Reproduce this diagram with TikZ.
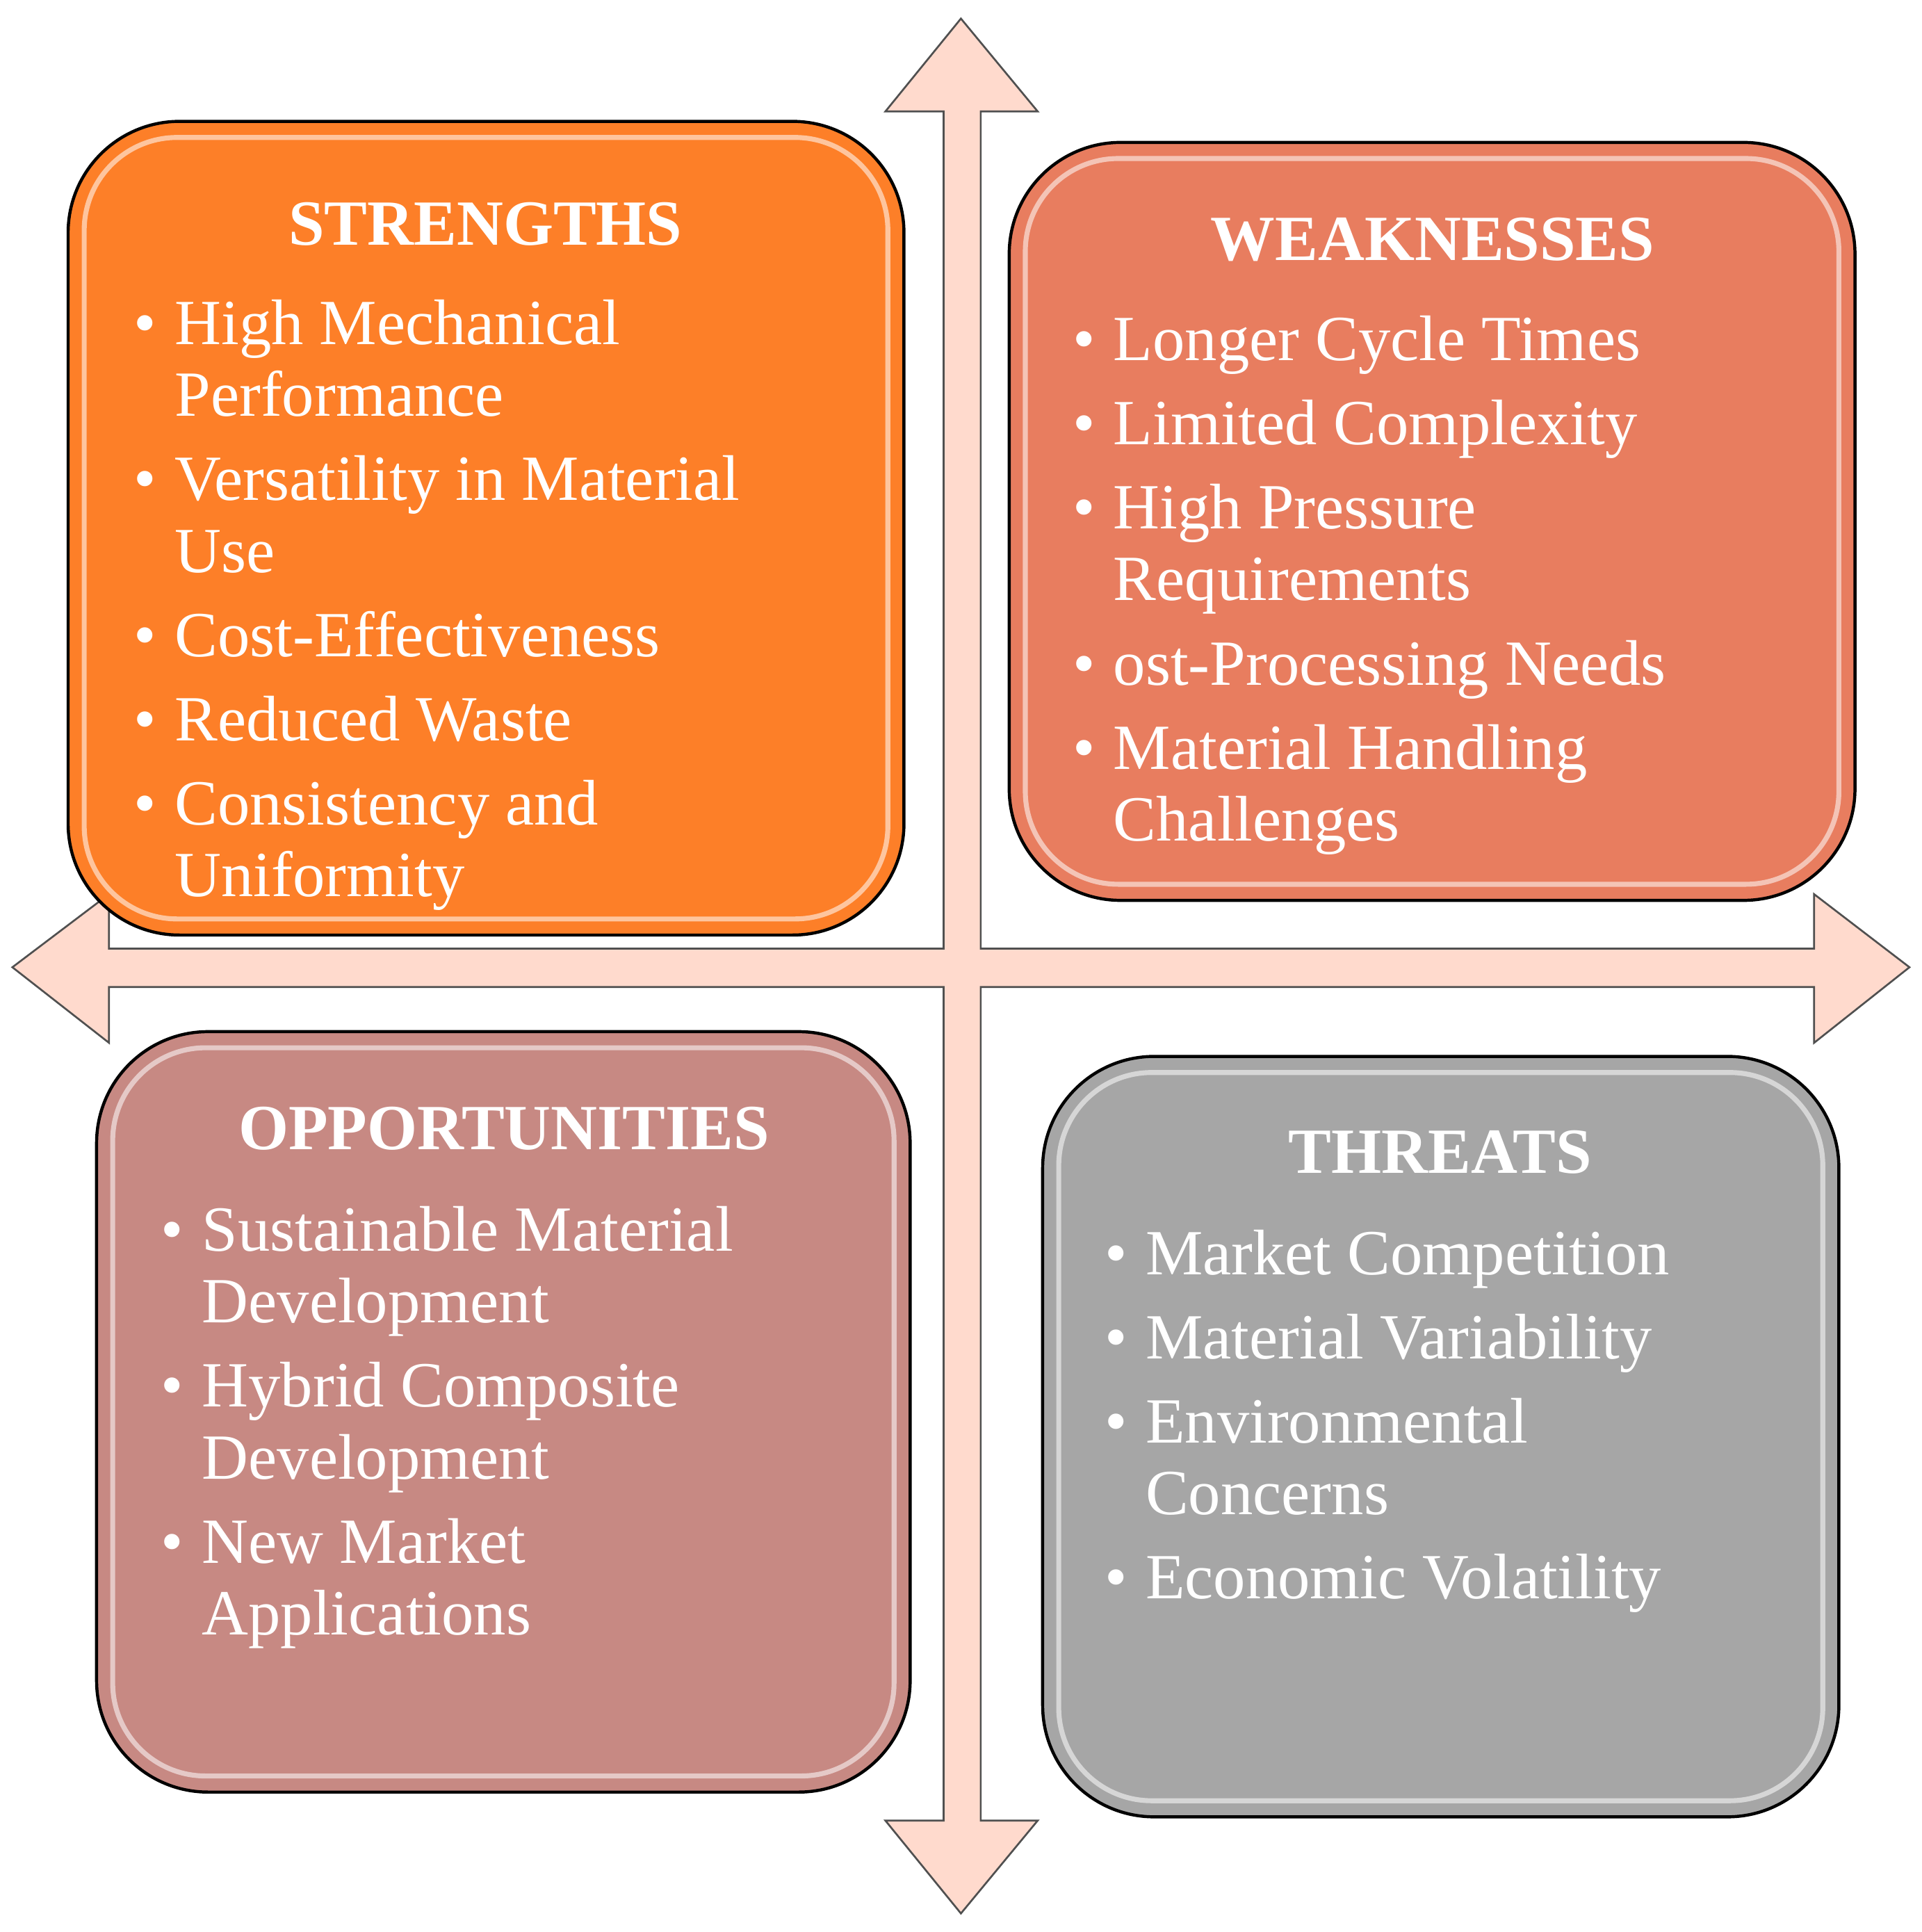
\documentclass[tikz,border=0pt]{standalone}
\usepackage{fontspec}
\setmainfont{Liberation Serif}
\newcommand\bitem[1]{\par\noindent\hangindent=33pt\hangafter=1\makebox[33pt][l]{\textbullet}#1\par\vspace{10pt}}
\begin{document}
\begin{tikzpicture}[x=1pt,y=-1pt,
 box/.style={draw=black,line width=2.5pt,rounded corners=90pt},
 gloss/.style={draw=white,opacity=0.55,line width=4pt,rounded corners=75pt},
 ttl/.style={font=\fontsize{52}{58}\selectfont\bfseries,text=white,anchor=base,inner sep=0},
 lst/.style={anchor=base west,inner sep=0,text=white}]
\useasboundingbox (0,0) rectangle (1552,1560);
\fill[white] (0,0) rectangle (1552,1560);
\draw[fill={rgb,255:red,255;green,218;blue,205},draw={rgb,255:red,80;green,80;blue,80},line width=1.5pt,line join=miter]
 (776,15) -- (838,90) -- (792,90) -- (792,766) -- (1465,766) -- (1465,722) -- (1542,781) -- (1465,842) -- (1465,797) -- (792,797) -- (792,1470) -- (838,1470) -- (776,1545) -- (715,1470) -- (762,1470) -- (762,797) -- (88,797) -- (88,842) -- (10,781) -- (88,722) -- (88,766) -- (762,766) -- (762,90) -- (715,90) -- cycle;
% boxes
\draw[box,fill={rgb,255:red,253;green,127;blue,40}] (55,98) rectangle (730,755);
\draw[box,fill={rgb,255:red,232;green,125;blue,95}] (815,115) rectangle (1498,727);
\draw[box,fill={rgb,255:red,199;green,137;blue,131}] (78,833) rectangle (735,1447);
\draw[box,fill={rgb,255:red,166;green,166;blue,166}] (842,853) rectangle (1485,1467);
\draw[gloss] (68,111) rectangle (717,742);
\draw[gloss] (828,128) rectangle (1485,714);
\draw[gloss] (91,846) rectangle (722,1434);
\draw[gloss] (855,866) rectangle (1472,1454);
% titles
\node[ttl] (ts) at (392,198) {STRENGTHS};
\node[ttl] (tw) at (1157,210) {WEAKNESSES};
\node[ttl] (to) at (407,928) {OPPORTUNITIES};
\node[ttl] (tt) at (1163,947) {THREATS};
% lists
\node[lst] (ls) at (108,278) {\begin{minipage}[t]{640pt}\fontsize{52}{58}\selectfont
\bitem{High Mechanical\\Performance}
\bitem{Versatility in Material\\Use}
\bitem{Cost-Effectiveness}
\bitem{Reduced Waste}
\bitem{Consistency and\\Uniformity}
\end{minipage}};
\node[lst] (lw) at (866,291) {\begin{minipage}[t]{640pt}\fontsize{52}{58}\selectfont
\bitem{Longer Cycle Times}
\bitem{Limited Complexity}
\bitem{High Pressure\\Requirements}
\bitem{ost-Processing Needs}
\bitem{Material Handling\\Challenges}
\end{minipage}};
\node[lst] (lo) at (130,1010) {\begin{minipage}[t]{640pt}\fontsize{52}{58}\selectfont
\bitem{Sustainable Material\\Development}
\bitem{Hybrid Composite\\Development}
\bitem{New Market\\Applications}
\end{minipage}};
\node[lst] (lt) at (892,1029) {\begin{minipage}[t]{640pt}\fontsize{52}{58}\selectfont
\bitem{Market Competition}
\bitem{Material Variability}
\bitem{Environmental\\Concerns}
\bitem{Economic Volatility}
\end{minipage}};
\end{tikzpicture}
\end{document}
